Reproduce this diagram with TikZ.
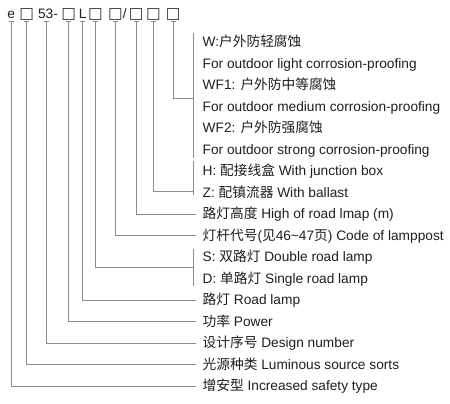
\documentclass[tikz,border=0pt]{standalone}
\usepackage{fontspec}
\setmainfont{Liberation Sans}
\newfontfamily\cjk{Noto Sans CJK SC}
\newfontfamily\symf{DejaVu Sans}
\usetikzlibrary{arrows.meta}
\begin{document}
\begin{tikzpicture}[x=1pt,y=-1pt,
  txt/.style={inner sep=0pt,text height=9.8pt,text depth=0pt,anchor=west,text=black!88,font=\fontsize{13.7}{16}\selectfont},
  tok/.style={inner sep=0pt,anchor=base,text=black!88,font=\fontsize{13.7}{16}\selectfont},
  bx/.style={tok,text=black!80,font=\symf\fontsize{15.5}{16}\selectfont},
  ln/.style={draw=black!45,line width=0.8pt},
  lead/.style={ln,{Bar[width=5pt,line width=0.8pt]}-}]
\useasboundingbox (0,0) rectangle (450,404);
\fill[white] (0,0) rectangle (450,404);
% code tokens
\node[tok] (te) at (11.2,18.5) {e};
\node[bx] (b1) at (26.7,19) {□};
\node[tok] (t53) at (48,18.5) {53-};
\node[bx] (b2) at (68.8,19) {□};
\node[tok] (tL) at (82.7,18.5) {L};
\node[bx] (b3) at (95.5,19) {□};
\node[bx] (b4) at (115.5,19) {□};
\node[tok] (tsl) at (124.8,18.5) {/};
\node[bx] (b5) at (136.2,19) {□};
\node[bx] (b6) at (153.5,19) {□};
\node[bx] (b7) at (173.3,19) {□};
% labels
\foreach \i/\t in {
 0/{W:{\cjk 户外防轻腐蚀}},
 1/{For outdoor light corrosion-proofing},
 2/{WF1: {\cjk 户外防中等腐蚀}},
 3/{For outdoor medium corrosion-proofing},
 4/{WF2: {\cjk 户外防强腐蚀}},
 5/{For outdoor strong corrosion-proofing},
 6/{H: {\cjk 配接线盒} With junction box},
 7/{Z: {\cjk 配镇流器} With ballast},
 8/{{\cjk 路灯高度} High of road lmap (m)},
 9/{{\cjk 灯杆代号}({\cjk 见}46\textasciitilde47{\cjk 页}) Code of lamppost},
 10/{S: {\cjk 双路灯} Double road lamp},
 11/{D: {\cjk 单路灯} Single road lamp},
 12/{{\cjk 路灯} Road lamp},
 13/{{\cjk 功率} Power},
 14/{{\cjk 设计序号} Design number},
 15/{{\cjk 光源种类} Luminous source sorts},
 16/{{\cjk 增安型} Increased safety type}}
 {\node[txt] (l\i) at (202.5,{42+21.5*\i}) {\t};}
% brackets
\coordinate (k1a) at (193.5,33);
\coordinate (k1b) at (193.5,157.5);
\coordinate (k2a) at (193.5,160.5);
\coordinate (k2b) at (193.5,195);
\coordinate (k3a) at (193.5,248.5);
\coordinate (k3b) at (193.5,286);
\draw[ln] (k1a) -- (k1b);
\draw[ln] (k2a) -- (k2b);
\draw[ln] (k3a) -- (k3b);
\coordinate (k1) at (193.5,98);
\coordinate (k2) at (193.5,191.5);
\coordinate (k3) at (193.5,267.5);
% leads
\draw[lead] (b7.base |- 0,21.5) |- (k1);
\draw[lead] (b6.base |- 0,21.5) |- (k2);
\draw[lead] (b5.base |- 0,21.5) |- ([xshift=-7pt]l8.west);
\draw[lead] (b4.base |- 0,21.5) |- ([xshift=-7pt]l9.west);
\draw[lead] (b3.base |- 0,21.5) |- (k3);
\draw[lead] (tL.base |- 0,21.5) |- ([xshift=-7pt]l12.west);
\draw[lead] (b2.base |- 0,21.5) |- ([xshift=-7pt]l13.west);
\draw[lead] ([xshift=-2pt]t53.base |- 0,21.5) |- ([xshift=-7pt]l14.west);
\draw[lead] (b1.base |- 0,21.5) |- ([xshift=-7pt]l15.west);
\draw[lead] (te.base |- 0,21.5) |- ([xshift=-7pt]l16.west);
\end{tikzpicture}
\end{document}
